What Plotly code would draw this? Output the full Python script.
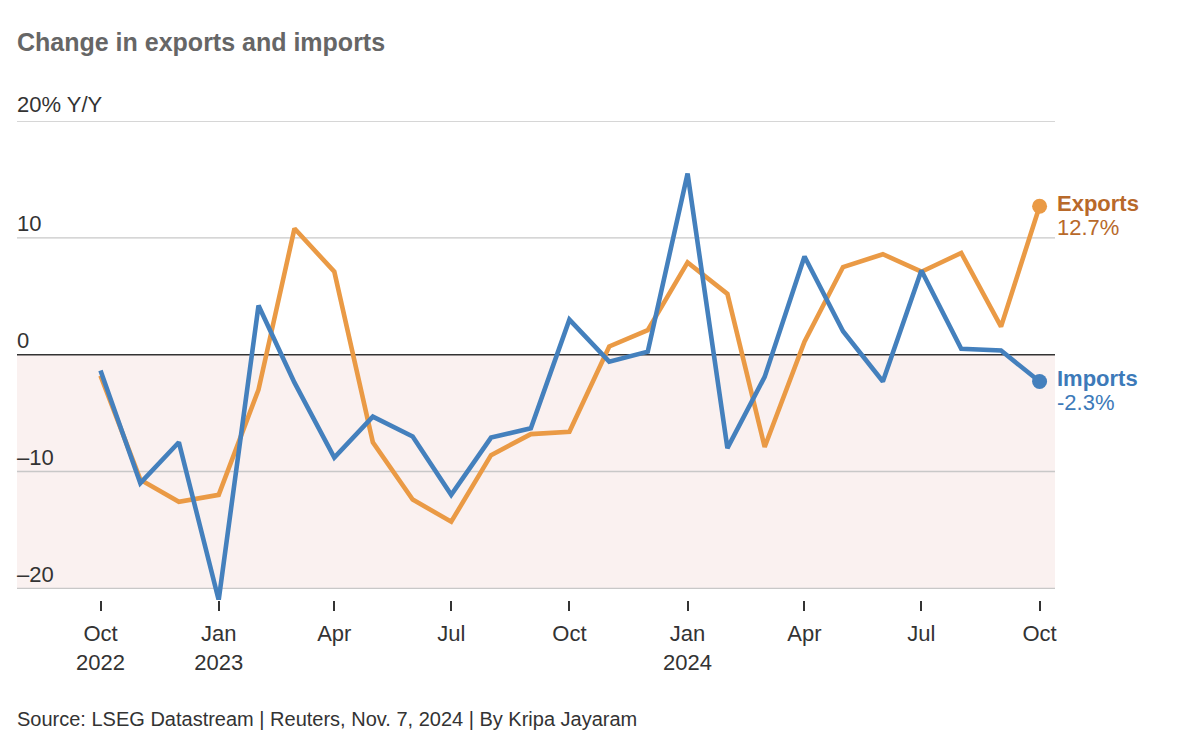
import plotly.graph_objects as go

months = ["2022-10-01", "2022-11-01", "2022-12-01", "2023-01-01", "2023-02-01", "2023-03-01",
          "2023-04-01", "2023-05-01", "2023-06-01", "2023-07-01", "2023-08-01", "2023-09-01",
          "2023-10-01", "2023-11-01", "2023-12-01", "2024-01-01", "2024-02-01", "2024-03-01",
          "2024-04-01", "2024-05-01", "2024-06-01", "2024-07-01", "2024-08-01", "2024-09-01",
          "2024-10-01"]

exports = [-1.8, -10.7, -12.6, -12.0, -3.0, 10.8, 7.1, -7.5, -12.4, -14.3, -8.6, -6.8,
           -6.6, 0.7, 2.1, 7.9, 5.2, -7.9, 1.1, 7.5, 8.6, 7.1, 8.7, 2.4, 12.7]

imports = [-1.35, -11.0, -7.5, -21.0, 4.2, -2.4, -8.8, -5.3, -7.0, -12.0, -7.1, -6.3,
           3.0, -0.6, 0.25, 15.5, -8.0, -1.9, 8.4, 2.0, -2.3, 7.2, 0.5, 0.35, -2.3]

tick_dates = ["2022-10-01", "2023-01-01", "2023-04-01", "2023-07-01", "2023-10-01",
              "2024-01-01", "2024-04-01", "2024-07-01", "2024-10-01"]
tick_text = ["Oct<br>2022", "Jan<br>2023", "Apr", "Jul", "Oct", "Jan<br>2024", "Apr", "Jul", "Oct"]

y_ticks = [20, 10, 0, -10, -20]
y_tick_text = ["20% Y/Y", "10", "0", "\u201310", "\u201320"]

ORANGE = "#ea9a45"
BLUE = "#4480bd"
ORANGE_TXT = "#b8692a"
BLUE_TXT = "#3d7ab9"
FONT = "Liberation Sans, Arial, sans-serif"

fig = go.Figure()

# shaded negative region
fig.add_shape(type="rect", xref="paper", yref="y", x0=0, x1=1, y0=0, y1=-20,
              fillcolor="#faf1f0", line_width=0, layer="below")

# gridlines
for v in [20, 10, -10, -20]:
    fig.add_shape(type="line", xref="paper", yref="y", x0=0, x1=1, y0=v, y1=v,
                  line=dict(color="#c8c8c8", width=1.3), layer="below")
fig.add_shape(type="line", xref="paper", yref="y", x0=0, x1=1, y0=0, y1=0,
              line=dict(color="#333333", width=1.5), layer="below")

fig.add_trace(go.Scatter(x=months, y=exports, mode="lines", line=dict(color=ORANGE, width=4.6),
                         cliponaxis=False, showlegend=False, hoverinfo="skip"))
fig.add_trace(go.Scatter(x=months, y=imports, mode="lines", line=dict(color=BLUE, width=4.6),
                         cliponaxis=False, showlegend=False, hoverinfo="skip"))
fig.add_trace(go.Scatter(x=[months[-1]], y=[exports[-1]], mode="markers",
                         marker=dict(color=ORANGE, size=15), cliponaxis=False,
                         showlegend=False, hoverinfo="skip"))
fig.add_trace(go.Scatter(x=[months[-1]], y=[imports[-1]], mode="markers",
                         marker=dict(color=BLUE, size=15), cliponaxis=False,
                         showlegend=False, hoverinfo="skip"))

# y-axis labels above gridlines
for v, t in zip(y_ticks, y_tick_text):
    fig.add_annotation(xref="paper", yref="y", x=0, y=v, text=t, showarrow=False,
                       xanchor="left", xshift=-2, yanchor="middle",
                       yshift=17 if v == 20 else 14,
                       font=dict(family=FONT, size=22, color="#333333"))

# end labels
for val, name, col in [(exports[-1], "Exports", ORANGE_TXT), (imports[-1], "Imports", BLUE_TXT)]:
    fig.add_annotation(xref="x", yref="y", x=months[-1], y=val, text=name, showarrow=False,
                       xanchor="left", yanchor="middle", xshift=15, yshift=3,
                       font=dict(family=FONT, size=22, color=col, weight=600))
    fig.add_annotation(xref="x", yref="y", x=months[-1], y=val, text=f"{val:.1f}%",
                       showarrow=False, xanchor="left", yanchor="middle", xshift=15, yshift=-21,
                       font=dict(family=FONT, size=22, color=col))

fig.add_annotation(xref="paper", yref="paper", x=0, y=-0.2484, xanchor="left", xshift=-2,
                   yanchor="middle",
                   text="Source: LSEG Datastream | Reuters, Nov. 7, 2024 | By Kripa Jayaram",
                   showarrow=False, font=dict(family=FONT, size=20, color="#333333"))

fig.update_layout(
    width=1200, height=742,
    margin=dict(l=9, r=153, t=113, b=150),
    paper_bgcolor="white", plot_bgcolor="white",
    title=dict(text="Change in exports and imports", x=0.0075, xanchor="left",
               y=0.954, yanchor="middle",
               font=dict(family=FONT, size=25, color="#666666", weight=600)),
    xaxis=dict(type="date", range=["2022-07-28", "2024-10-13"], tickvals=tick_dates,
               ticktext=tick_text, ticks="outside", ticklen=10, tickcolor="#333333",
               tickwidth=1.5, showgrid=False, zeroline=False, showline=False,
               ticklabelstandoff=4,
               tickfont=dict(family=FONT, size=22, color="#333333")),
    yaxis=dict(range=[-21, 20], showgrid=False, zeroline=False, showticklabels=False,
               showline=False),
)

fig.write_html("out.html")
